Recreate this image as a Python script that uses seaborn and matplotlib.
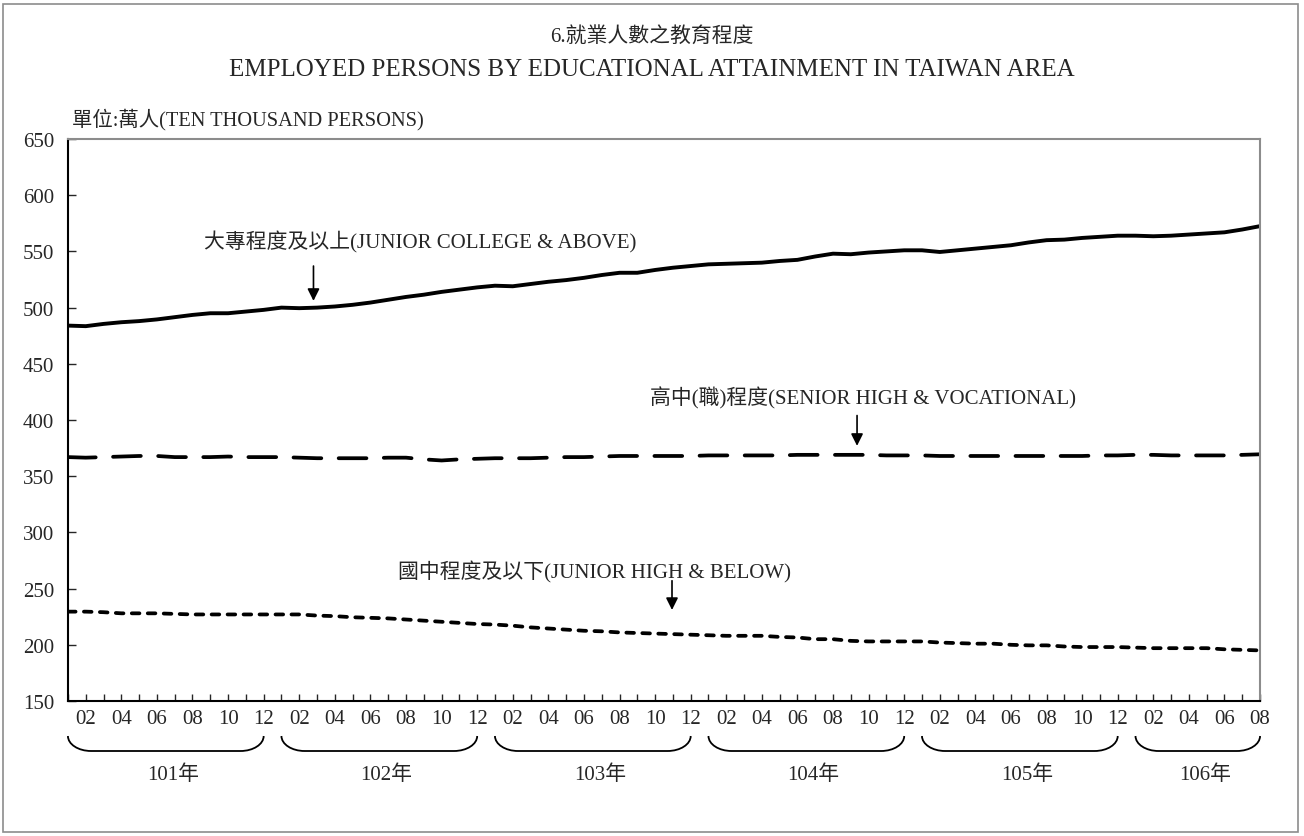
import numpy as np
import pandas as pd
import matplotlib
matplotlib.use("Agg")
import matplotlib.pyplot as plt
import matplotlib.transforms as mtransforms
from matplotlib.path import Path
from matplotlib.patches import PathPatch, Rectangle
import seaborn as sns

# 民國101年01月 ~ 106年08月 (萬人)
years = [101, 102, 103, 104, 105, 106]
months = [f"{m:02d}" for y in years for m in range(1, 13)][:68]

college = [484, 483.5, 485.5, 487, 488, 489.5, 491.5, 493.5, 495, 495, 496.5, 498,
           500, 499.5, 500, 501, 502.5, 504.5, 507, 509.5, 511.5, 514, 516, 518,
           519.5, 519, 521, 523, 524.5, 526.5, 529, 531, 531, 533.5, 535.5, 537,
           538.5, 539, 539.5, 540, 541.5, 542.5, 545.5, 548, 547.5, 549, 550, 551,
           551, 549.5, 551, 552.5, 554, 555.5, 558, 560, 560.5, 562, 563, 564,
           564, 563.5, 564, 565, 566, 567, 569.5, 572.5]

senior = [367, 366.5, 367, 367.5, 368, 368, 367, 367, 367, 367.5, 367, 367,
          367, 366.5, 366, 366, 366, 366, 366.5, 366.5, 365, 364, 365, 365.5,
          366, 366, 366, 366.5, 367, 367, 367.5, 368, 368, 368, 368, 368,
          368.5, 368.5, 368.5, 368.5, 368.5, 369, 369, 369, 369, 369, 368.5, 368.5,
          368.5, 368, 368, 368, 368, 368, 368, 368, 368, 368, 368.5, 368.5,
          369, 369, 368.5, 368.5, 368.5, 368.5, 369, 369.5]

junior = [229.5, 229.5, 229, 228, 228, 228, 227.5, 227, 227, 227, 227, 227,
          227, 227, 226, 225.5, 224.5, 224, 223.5, 222.5, 221.5, 220.5, 219.5, 218.5,
          218, 217, 215.5, 214.5, 213.5, 212.5, 212, 211, 210.5, 210, 209.5, 209,
          208.5, 208, 208, 208, 207, 206.5, 205, 205, 203.5, 203, 203, 203,
          203, 202, 201.5, 201, 201, 200, 199.5, 199.5, 198.5, 198, 198, 198,
          197.5, 197, 197, 197, 197, 196, 195.5, 195]

df = pd.DataFrame({"t": np.arange(len(months)), "college": college,
                   "senior": senior, "junior": junior})

sns.set_style("ticks")
plt.rcParams['font.family'] = ['Liberation Serif', 'Noto Sans CJK TC']
plt.rcParams['axes.unicode_minus'] = False
plt.rcParams['lines.scale_dashes'] = False

fig = plt.figure(figsize=(13.04, 8.37), dpi=100)
ax = fig.add_axes([0.0521, 0.1613, 0.9142, 0.6714])

sns.lineplot(data=df, x="t", y="college", ax=ax, color="black", linewidth=2.8,
             solid_capstyle="round")
sns.lineplot(data=df, x="t", y="senior", ax=ax, color="black", linewidth=2.7,
             linestyle=(0, (20, 12.5)), dash_capstyle="round")
sns.lineplot(data=df, x="t", y="junior", ax=ax, color="black", linewidth=2.7,
             linestyle=(0, (5.5, 6)), dash_capstyle="round")

ax.set_xlim(0, len(months) - 1)
ax.set_ylim(150, 650)
ax.set_yticks(range(150, 651, 50))
ax.set_xticks(range(len(months)))
ax.set_xticklabels([m if i % 2 == 1 else "" for i, m in enumerate(months)])
ax.set_xlabel("")
ax.set_ylabel("")
ax.tick_params(axis="x", direction="in", length=5, width=1, pad=6, labelsize=15)
ax.tick_params(axis="y", direction="in", length=6, width=1, pad=10, labelsize=15)
for s in ["left", "bottom"]:
    ax.spines[s].set_color("black")
    ax.spines[s].set_linewidth(1.5)
for s in ["top", "right"]:
    ax.spines[s].set_visible(True)
    ax.spines[s].set_color("#8c8c8c")
    ax.spines[s].set_linewidth(1.5)

# titles
fig.text(0.5, 0.956, "6.就業人數之教育程度", ha="center", va="center", fontsize=15)
fig.text(0.5, 0.916, "EMPLOYED PERSONS BY EDUCATIONAL ATTAINMENT IN TAIWAN AREA",
         ha="center", va="center", fontsize=18)
fig.text(0.055, 0.857, "單位:萬人(TEN THOUSAND PERSONS)", ha="left", va="center", fontsize=14.7)

# series labels with arrows
notes = [
    ("大專程度及以上(JUNIOR COLLEGE & ABOVE)", 19.8, 559, 13.8, 537, 506),
    ("高中(職)程度(SENIOR HIGH & VOCATIONAL)", 44.7, 420, 44.35, 404, 377),
    ("國中程度及以下(JUNIOR HIGH & BELOW)", 29.6, 265, 33.95, 257, 231),
]
for txt, tx, ty, axx, y0, y1 in notes:
    ax.text(tx, ty, txt, ha="center", va="center", fontsize=15)
    ax.annotate("", xy=(axx, y1), xytext=(axx, y0),
                arrowprops=dict(arrowstyle="-|>", color="black", lw=1.2,
                                mutation_scale=18, shrinkA=0, shrinkB=0))

# year braces
trans = mtransforms.blended_transform_factory(ax.transData, fig.transFigure)
top, bot = 1 - 737 / 837, 1 - 752 / 837
k, w = 0.5523, 1.3
for i, yr in enumerate(years):
    x0 = 12 * i
    x1 = min(12 * i + 11, len(months) - 1)
    verts = [(x0, top), (x0, top - k * (top - bot)), (x0 + w - k * w, bot), (x0 + w, bot),
             (x1 - w, bot),
             (x1 - w + k * w, bot), (x1, top - k * (top - bot)), (x1, top)]
    codes = [Path.MOVETO, Path.CURVE4, Path.CURVE4, Path.CURVE4, Path.LINETO,
             Path.CURVE4, Path.CURVE4, Path.CURVE4]
    ax.add_patch(PathPatch(Path(verts, codes), transform=trans, fill=False,
                           edgecolor="black", lw=1.3, clip_on=False))
    ax.text((x0 + x1) / 2 + 0.4, 1 - 775 / 837, f"{yr}年", transform=trans,
            ha="center", va="center", fontsize=15)

# outer frame
fig.add_artist(Rectangle((3 / 1304, 1 - 833 / 837), 1295 / 1304, 828 / 837,
                         transform=fig.transFigure, fill=False,
                         edgecolor="#8c8c8c", lw=1.2))

fig.savefig("out.png", dpi=100)
